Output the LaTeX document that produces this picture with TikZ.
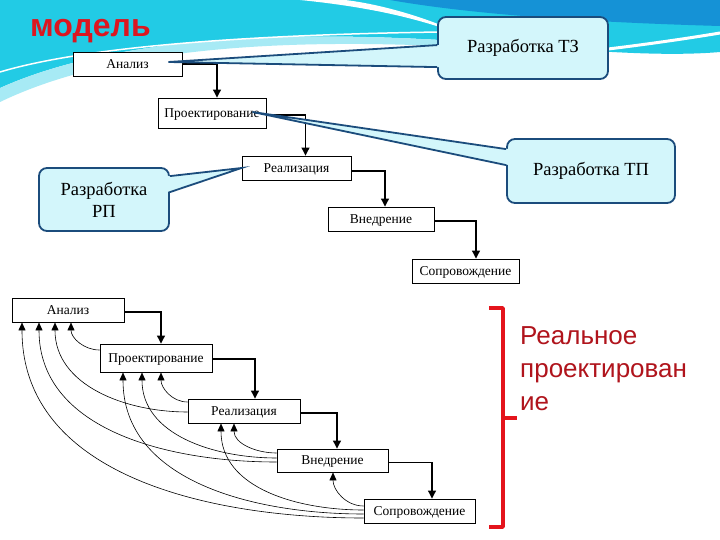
\documentclass[tikz,border=0pt]{standalone}
\usepackage{fontspec}
\setmainfont{Liberation Serif}
\newfontfamily\sansf{Liberation Sans}
\usetikzlibrary{arrows.meta,calc}
\definecolor{cyanbg}{HTML}{22CBE5}
\definecolor{bluebg}{HTML}{1592D6}
\definecolor{callfill}{HTML}{D3F6FB}
\definecolor{callline}{HTML}{1B4C7C}
\definecolor{titlered}{HTML}{DC1620}
\definecolor{textred}{HTML}{B0141C}
\definecolor{bracketred}{HTML}{E4141C}
\tikzset{
 wbox/.style={draw=black, line width=0.9pt, fill=white, inner sep=0pt, text depth=0pt, font=\fontsize{13.5}{14}\selectfont},
 flow/.style={line width=1.1pt, -{Triangle[width=8pt,length=8pt]}},
 fb/.style={line width=0.6pt, -{Triangle[width=7pt,length=8pt]}},
 callbox/.style={draw=callline, line width=1.8pt, fill=callfill, rounded corners=8pt, inner sep=0pt, align=center, font=\fontsize{18.5}{22}\selectfont},
 wedgefill/.style={fill=callfill},
 wedgeline/.style={draw=callline, line width=1.8pt, line join=miter},
}
\begin{document}
\begin{tikzpicture}[x=1pt,y=-1pt]
\useasboundingbox (0,0) rectangle (720,540);
\fill[white] (0,0) rectangle (720,540);
% background swoosh
\fill[cyanbg] (0,0) -- (720,0) -- (720,52) .. controls (650,58) and (560,48) .. (440,40) .. controls (300,32) and (120,34) .. (0,88) -- cycle;
\fill[cyanbg!40] (0,88) .. controls (120,34) and (300,32) .. (440,40) -- (440,46) .. controls (300,40) and (120,44) .. (0,102) -- cycle;
\fill[bluebg] (390,0) .. controls (470,14) and (580,22) .. (720,26) -- (720,0) -- cycle;
\fill[white] (300,0) .. controls (380,8) and (430,22) .. (470,38) .. controls (430,18) and (380,4) .. (345,0) -- cycle;
\draw[white, line width=3pt] (600,50) .. controls (650,44) and (690,38) .. (720,33);
\draw[white, line width=1.5pt] (0,72) .. controls (100,42) and (300,34) .. (440,32);

% title
\node[anchor=base west, inner sep=0pt, font=\sansf\bfseries\fontsize{32}{32}\selectfont, text=titlered] (title) at (30,37) {модель};

% callout boxes
\node[callbox, minimum width=170pt, minimum height=62pt] (tz) at (523,48) {Разработка ТЗ};
\node[callbox, minimum width=168pt, minimum height=64pt] (tp) at (591,171) {Разработка ТП};
\node[callbox, minimum width=130pt, minimum height=63pt] (rp) at (104,199.5) {Разработка\\РП};

% top waterfall
\node[wbox, minimum width=109pt, minimum height=24pt] (a1) at (127.5,64) {Анализ};
\node[wbox, minimum width=108pt, minimum height=30pt] (p1) at (212,113) {Проектирование};
\node[wbox, minimum width=109pt, minimum height=24pt] (r1) at (296.5,168) {Реализация};
\node[wbox, minimum width=106pt, minimum height=24pt] (v1) at (381,219) {Внедрение};
\node[wbox, minimum width=107pt, minimum height=24pt] (s1) at (465.5,271) {Сопровождение};

\draw[flow] (a1.east) -| ($(p1.north)+(5,0)$);
\draw[flow] ($(p1.east)+(0,2)$) -| ($(r1.north)+(9,0)$);
\draw[flow] ($(r1.east)+(0,3)$) -| ($(v1.north)+(4,0)$);
\draw[flow] ($(v1.east)+(0,2)$) -| ($(s1.north)+(10.5,0)$);

% callout pointers
\fill[wedgefill] ($(tz.north west)+(3,29)$) -- ($(a1.east)+(-14,-2)$) -- ($(tz.north west)+(3,51)$) -- cycle;
\draw[wedgeline] ($(tz.north west)+(0,29)$) -- ($(a1.east)+(-14,-2)$) -- ($(tz.north west)+(0,51)$);
\fill[wedgefill] ($(tp.north west)+(3,11)$) -- ($(p1.east)+(-14,-1)$) -- ($(tp.north west)+(3,27)$) -- cycle;
\draw[wedgeline] ($(tp.north west)+(0,11)$) -- ($(p1.east)+(-14,-1)$) -- ($(tp.north west)+(0,27)$);
\fill[wedgefill] ($(rp.north east)+(-3,9)$) -- (r1.west) -- ($(rp.north east)+(-3,25)$) -- cycle;
\draw[wedgeline] ($(rp.north east)+(0,9)$) -- (r1.west) -- ($(rp.north east)+(0,25)$);

% bottom diagram
\node[wbox, minimum width=112pt, minimum height=24pt] (a2) at (68,310) {Анализ};
\node[wbox, minimum width=112pt, minimum height=28pt] (p2) at (156,358) {Проектирование};
\node[wbox, minimum width=112pt, minimum height=24pt] (r2) at (244,411) {Реализация};
\node[wbox, minimum width=111pt, minimum height=23pt] (v2) at (332.5,460.5) {Внедрение};
\node[wbox, minimum width=111pt, minimum height=24pt] (s2) at (419.5,511) {Сопровождение};

\draw[flow] ($(a2.east)+(0,2)$) -| ($(p2.north)+(5,0)$);
\draw[flow] ($(p2.east)+(0,1)$) -| ($(r2.north)+(11,0)$);
\draw[flow] ($(r2.east)+(0,2)$) -| ($(v2.north)+(4.5,0)$);
\draw[flow] ($(v2.east)+(0,2)$) -| ($(s2.north)+(12.5,0)$);

% feedback arrows
\draw[fb] ($(p2.west)+(0,-8)$) to[out=180,in=-90] ($(a2.south)+(3,0)$);
\draw[fb] ($(r2.west)+(0,1)$) to[out=180,in=-90] ($(a2.south)+(-13,0)$);
\draw[fb] ($(r2.west)+(0,-9)$) to[out=180,in=-90] ($(p2.south)+(5,0)$);
\draw[fb] ($(v2.west)+(0,-7.5)$) to[out=180,in=-90] ($(r2.south)+(-10,0)$);
\draw[fb] ($(v2.west)+(0,-2.5)$) to[out=180,in=-90] ($(p2.south)+(-14,0)$);
\draw[fb] ($(v2.west)+(0,1.5)$) to[out=180,in=-90] ($(a2.south)+(-29,0)$);
\draw[fb] ($(s2.west)+(0,-5)$) to[out=180,in=-90] ($(v2.south)+(0.5,0)$);
\draw[fb] ($(s2.west)+(0,-1)$) to[out=180,in=-90] ($(r2.south)+(-23,0)$);
\draw[fb] ($(s2.west)+(0,3)$) to[out=180,in=-90] ($(p2.south)+(-33,0)$);
\draw[fb] ($(s2.west)+(0,7)$) to[out=180,in=-90] ($(a2.south)+(-46,0)$);

% red bracket and label
\draw[bracketred, line width=3.5pt, line join=round] (489,308) -- (503,308) -- (503,527) -- (489,527);
\draw[bracketred, line width=3.5pt] (503,418) -- (517,418);
\node[anchor=north west, align=left, inner sep=0pt, text=textred, font=\sansf\fontsize{26}{33}\selectfont] (rt) at (520,326.5) {Реальное\\проектирован\\ие};
\end{tikzpicture}
\end{document}
